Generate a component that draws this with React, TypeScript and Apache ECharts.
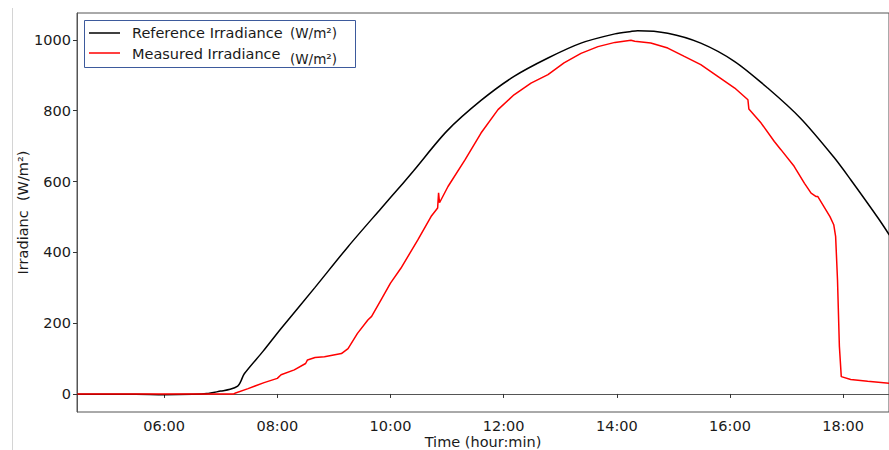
import React, { useEffect, useRef } from "react";
import * as echarts from "echarts";

// Reference (clear-sky) irradiance, W/m², sampled at these clock times
const REF_TIMES = [
  "04:28", "05:00", "05:30", "06:00", "06:30", "06:45", "07:00", "07:10", "07:18",
  "07:21", "07:25", "07:45", "08:04", "08:40", "09:15", "09:50", "10:11", "10:25",
  "11:00", "11:36", "12:11", "12:47", "13:22", "13:58", "14:15", "14:22", "14:54",
  "15:29", "16:05", "16:40", "17:15", "17:50", "18:08", "18:37", "18:49",
];
const REF_VALUES = [
  -1, -1, -1, -2, -1, 1, 8, 13, 22,
  34, 57, 121, 185, 301, 416, 524, 588, 632,
  743, 829, 897, 949, 991, 1017, 1024, 1026, 1019,
  991, 939, 864, 778, 669, 605, 497, 449,
];

// Measured irradiance on the module plane, W/m²
const MEAS_TIMES = [
  "04:28", "06:00", "07:14", "07:15", "07:29", "07:46", "08:00", "08:04", "08:18",
  "08:30", "08:32", "08:40", "08:50", "09:08", "09:15", "09:25", "09:36", "09:40",
  "09:50", "10:00", "10:11", "10:29", "10:43", "10:50", "10:51", "10:52", "11:01",
  "11:19", "11:36", "11:54", "12:11", "12:29", "12:47", "13:04", "13:22", "13:40",
  "13:58", "14:15", "14:19", "14:36", "14:54", "15:11", "15:29", "15:47", "16:05",
  "16:19", "16:20", "16:33", "16:47", "16:54", "17:08", "17:19", "17:26", "17:31",
  "17:33", "17:46", "17:50", "17:52", "17:54", "17:56", "17:58", "18:08", "18:26",
  "18:49",
];
const MEAS_VALUES = [
  0, 0, 0, 2, 15, 32, 44, 54, 68,
  86, 96, 103, 105, 114, 128, 171, 209, 219,
  266, 313, 355, 435, 501, 525, 568, 540, 586,
  661, 737, 803, 845, 878, 902, 935, 962, 981,
  993, 999, 996, 991, 977, 954, 930, 897, 864,
  831, 805, 765, 713, 690, 643, 595, 567, 558,
  558, 501, 478, 445, 322, 134, 49, 41, 36,
  30,
];

const X_TICKS = [6, 8, 10, 12, 14, 16, 18];
const Y_TICKS = [0, 200, 400, 600, 800, 1000];

const toHours = (t: string) => {
  const [h, m] = t.split(":").map(Number);
  return h + m / 60;
};
const pair = (times: string[], values: number[]) =>
  times.map((t, i) => [toHours(t), values[i]]);

const FONT = "DejaVu Sans";
const TXT = "#1a1a1a";

export default function App() {
  const ref = useRef<HTMLDivElement>(null);

  useEffect(() => {
    if (!ref.current) return;
    const chart = echarts.init(ref.current, undefined, { renderer: "svg" });
    chart.setOption({
      animation: false,
      backgroundColor: "#fff",
      grid: {
        left: 77,
        top: 13,
        right: 6,
        bottom: 38,
        outerBoundsMode: "none",
        containLabel: false,
        show: true,
        borderColor: "#555",
        borderWidth: 1,
      },
      xAxis: {
        type: "value",
        min: 4.46,
        max: 18.81,
        splitLine: { show: false },
        axisLine: { show: true, lineStyle: { color: "#555", width: 1 } },
        axisTick: {
          show: true,
          customValues: X_TICKS,
          length: 4,
          lineStyle: { color: "#333" },
        },
        axisLabel: {
          customValues: X_TICKS,
          formatter: (v: number) => `${String(Math.round(v)).padStart(2, "0")}:00`,
          fontSize: 14.5,
          fontFamily: FONT,
          color: TXT,
          margin: 6,
        },
        name: "Time (hour:min)",
        nameLocation: "middle",
        nameGap: 22,
        nameMoveOverlap: false,
        nameTextStyle: { fontSize: 14.5, fontFamily: FONT, color: TXT },
      },
      yAxis: {
        type: "value",
        min: -51,
        max: 1076,
        splitLine: { show: false },
        axisLine: { show: true, lineStyle: { color: "#555", width: 1 } },
        axisTick: {
          show: true,
          customValues: Y_TICKS,
          length: 4,
          lineStyle: { color: "#333" },
        },
        axisLabel: {
          customValues: Y_TICKS,
          formatter: (v: number) => String(Math.round(v)),
          fontSize: 14.5,
          fontFamily: FONT,
          color: TXT,
          margin: 6,
        },
        name: "Irradianc  (W/m²)",
        nameLocation: "middle",
        nameGap: 47,
        nameMoveOverlap: false,
        nameTextStyle: { fontSize: 14.5, fontFamily: FONT, color: TXT },
      },
      series: [
        {
          name: "Reference Irradiance",
          type: "line",
          data: pair(REF_TIMES, REF_VALUES),
          showSymbol: false,
          smooth: 0.3,
          lineStyle: { color: "#000", width: 1.5 },
        },
        {
          name: "Measured Irradiance",
          type: "line",
          data: pair(MEAS_TIMES, MEAS_VALUES),
          showSymbol: false,
          lineStyle: { color: "#ff0000", width: 1.5 },
        },
      ],
      graphic: [
        {
          type: "line",
          shape: { x1: 12.5, y1: 8, x2: 12.5, y2: 450 },
          style: { stroke: "#d4d4d4", lineWidth: 1 },
        },
        {
          type: "rect",
          shape: { x: 84.5, y: 20.5, width: 271, height: 47 },
          style: { fill: "#fff", stroke: "#3d5a9c", lineWidth: 1 },
          z: 10,
        },
        {
          type: "line",
          shape: { x1: 89, y1: 33, x2: 120, y2: 33 },
          style: { stroke: "#000", lineWidth: 1.5 },
          z: 11,
        },
        {
          type: "line",
          shape: { x1: 89, y1: 53, x2: 120, y2: 53 },
          style: { stroke: "#ff0000", lineWidth: 1.5 },
          z: 11,
        },
        {
          type: "text",
          x: 132,
          y: 33,
          style: {
            text: "Reference Irradiance",
            font: `14.5px '${FONT}'`,
            fill: TXT,
            verticalAlign: "middle",
          },
          z: 11,
        },
        {
          type: "text",
          x: 290,
          y: 33,
          style: { text: "(W/m²)", font: `13.5px '${FONT}'`, fill: TXT, verticalAlign: "middle" },
          z: 11,
        },
        {
          type: "text",
          x: 132,
          y: 54,
          style: {
            text: "Measured Irradiance",
            font: `14.5px '${FONT}'`,
            fill: TXT,
            verticalAlign: "middle",
          },
          z: 11,
        },
        {
          type: "text",
          x: 290,
          y: 59,
          style: { text: "(W/m²)", font: `13.5px '${FONT}'`, fill: TXT, verticalAlign: "middle" },
          z: 11,
        },
      ],
    });
    return () => chart.dispose();
  }, []);

  return (
    <div
      style={{
        position: "fixed",
        left: 0,
        top: 0,
        width: 889,
        height: 450,
        overflow: "hidden",
        background: "#fff",
      }}
    >
      <div ref={ref} style={{ width: 895, height: 450 }} />
    </div>
  );
}
